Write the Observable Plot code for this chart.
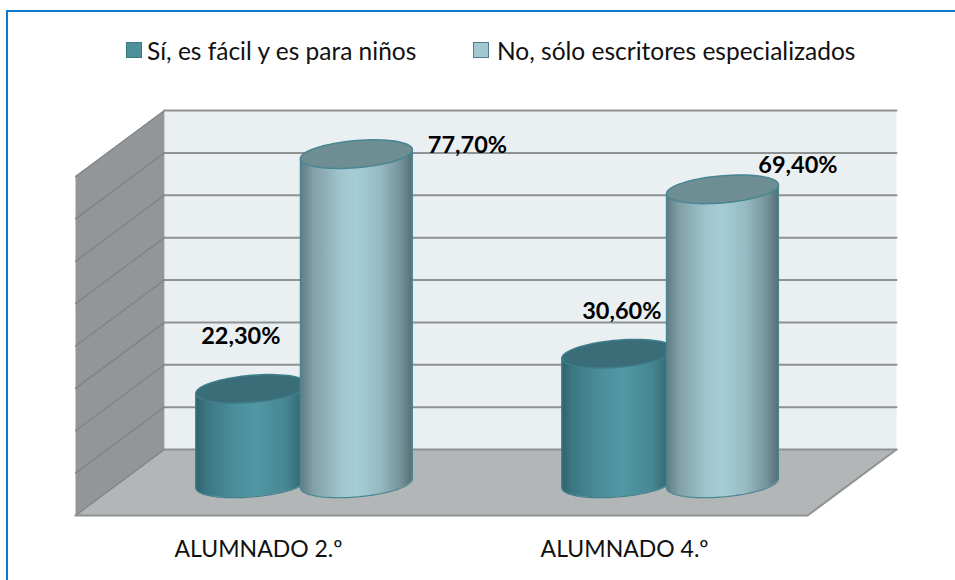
<!DOCTYPE html>
<html>
<head>
<meta charset="utf-8">
<script src="https://cdn.jsdelivr.net/npm/d3@7"></script>
<script src="https://cdn.jsdelivr.net/npm/@observablehq/plot@0.6"></script>
<style>
  html, body { margin: 0; padding: 0; background: #fff; overflow: hidden; }
  #page { position: absolute; left: 6px; top: 10px; right: 0; bottom: 0; border-left: 2px solid #0b78d0; border-top: 2px solid #0b78d0; box-sizing: border-box; }
  #legend { position: absolute; left: 0; top: 0; width: 955px; height: 70px; font-family: Lato, sans-serif; font-size: 24.5px; color: #111; }
  #legend .item { position: absolute; top: 42px; height: 16px; display: flex; align-items: center; white-space: nowrap; }
  #legend .sw { width: 14px; height: 14px; border: 1px solid; flex: none; }
  #chart { position: absolute; left: 0; top: 70px; }
  #chart svg { display: block; }
</style>
</head>
<body>
<div id="page"></div>
<div id="legend"></div>
<div id="chart"></div>
<script>
const categories = ["ALUMNADO 2.º", "ALUMNADO 4.º"];
const seriesNames = ["Sí, es fácil y es para niños", "No, sólo escritores especializados"];
const valuesYes = [22.3, 30.6];
const valuesNo = [77.7, 69.4];
const yTicks = [0, 10, 20, 30, 40, 50, 60, 70, 80];
const fmt = v => v.toFixed(2).replace(".", ",") + "%";

// Oblique-projection constants of the 3D frame
const W = 955, H = 510;
const xRange = [75, 896], yRange = [445, 40];
const depthX = 0.2428, depthY = 15.575;
const pxX = (xRange[1] - xRange[0]) / (2 + depthX);
const pxY = (yRange[0] - yRange[1]) / (80 + depthY);
const P = (x, v, d) => ({x: x + d * depthX, y: v - (1 - d) * depthY});

const wall = [P(0, 0, 1), P(2, 0, 1), P(2, 80, 1), P(0, 80, 1), P(0, 0, 1)];
const side = [P(0, 0, 0), P(0, 0, 1), P(0, 80, 1), P(0, 80, 0), P(0, 0, 0)];
const floor = [P(0, 0, 0), P(2, 0, 0), P(2, 0, 1), P(0, 0, 1), P(0, 0, 0)];
const backLines = yTicks.flatMap(v => [{...P(0, v, 1), v}, {...P(2, v, 1), v}]);
const sideLines = yTicks.map(v => [P(0, v, 0), P(0, v, 1)]);

// Cylinder geometry (pixel extents converted to scale units)
const hw = 56 / pxX, tilt = 4.5 / pxY, bulge = 13.6 / pxY;
const sep = 52.3 / pxX, cylX = 0.1245, cylY = 8.0;
const arcT = d3.range(0, 61).map(i => i / 60);
function lowerArc(cx, v) {
  return arcT.map(u => {
    const t = Math.PI * (1 - u);
    return {x: cx + hw * Math.cos(t), y: v - cylY + tilt * Math.cos(t) - bulge * Math.sin(t)};
  });
}
function body(cx, v) {
  return arcT.map(u => {
    const t = Math.PI * (1 - u), c = Math.cos(t);
    return {
      x: cx + hw * c,
      y1: -cylY + tilt * c - bulge * Math.sin(t),
      y2: v - cylY + tilt * c
    };
  });
}
function edge(cx, v) {
  const a = lowerArc(cx, 0);
  return [{x: cx - hw, y: v - cylY - tilt}, ...a, {x: cx + hw, y: v - cylY + tilt}];
}
function topEllipse(cx, v) {
  return d3.range(0, 73).map(i => {
    const t = i / 72 * 2 * Math.PI;
    return {x: cx + hw * Math.cos(t), y: v - cylY + tilt * Math.cos(t) + bulge * Math.sin(t)};
  });
}

const styles = [
  {grad: "url(#gDark)", top: "#3b6d79", stroke: "#3f7f8b"},
  {grad: "url(#gLight)", top: "#6f8e93", stroke: "#478692"}
];
const cylMarks = [];
categories.forEach((c, i) => {
  [valuesYes[i], valuesNo[i]].forEach((v, s) => {
    const cx = i + 0.5 + cylX + (s === 0 ? -sep : sep);
    const st = styles[s];
    cylMarks.push(
      Plot.areaY(body(cx, v), {x: "x", y1: "y1", y2: "y2", fill: st.grad}),
      Plot.line(edge(cx, v), {x: "x", y: "y", stroke: st.stroke, strokeWidth: 1.2}),
      Plot.line(topEllipse(cx, v), {x: "x", y: "y", fill: st.top, stroke: st.stroke, strokeWidth: 1.5})
    );
  });
});

// Where each value label sits relative to its cylinder top
const labelOffsets = [[-11, -52.5], [4, -42.5], [111, -9], [75.5, -23.5]];
const labelRows = [
  ...valuesYes.map((v, i) => ({v, x: i + 0.5 + cylX - sep})),
  ...valuesNo.map((v, i) => ({v, x: i + 0.5 + cylX + sep}))
];
const labelMarks = labelRows.map((r, i) => Plot.text([r], {
  x: "x", y: d => d.v - cylY, text: d => fmt(d.v),
  dx: labelOffsets[i][0], dy: labelOffsets[i][1],
  fontSize: 23.5, fontWeight: 700, fontFamily: "Lato, sans-serif", fill: "#000"
}));

const gradients = () => {
  const defs = d3.create("svg:defs");
  const add = (id, stops) => {
    const g = defs.append("linearGradient").attr("id", id)
      .attr("x1", 0).attr("x2", 1).attr("y1", 0).attr("y2", 0);
    stops.forEach(([o, c]) => g.append("stop").attr("offset", o).attr("stop-color", c));
  };
  add("gDark", [[0, "#2f626d"], [0.1, "#3c7783"], [0.35, "#4b8f9b"], [0.55, "#5098a4"], [0.8, "#478793"], [1, "#2f5f6a"]]);
  add("gLight", [[0, "#5f7a80"], [0.12, "#82a0a8"], [0.35, "#9ec3cc"], [0.5, "#a6cdd5"], [0.72, "#96b9c2"], [0.9, "#75929a"], [1, "#566f75"]]);
  return defs.node();
};

const plot = Plot.plot({
  width: W, height: H,
  margin: 0,
  x: {domain: [0, 2 + depthX], range: xRange, axis: null},
  y: {domain: [-depthY, 80], range: yRange, axis: null},
  marks: [
    gradients,
    Plot.line(wall, {x: "x", y: "y", fill: "#eaeff2", stroke: "none"}),
    Plot.line(side, {x: "x", y: "y", fill: "#939698", stroke: "none"}),
    Plot.line(floor, {x: "x", y: "y", fill: "#b2b6b6", stroke: "none"}),
    Plot.line(backLines, {x: "x", y: "y", z: "v", stroke: "#8f9292", strokeWidth: 2}),
    ...sideLines.map(l => Plot.line(l, {x: "x", y: "y", stroke: "#808384", strokeWidth: 1.3})),
    Plot.line([P(2, 0, 1), P(2, 0, 0), P(0, 0, 0)], {x: "x", y: "y", stroke: "#8f9292", strokeWidth: 2}),
    ...cylMarks,
    ...labelMarks,
    Plot.text(categories, {
      x: (d, i) => i + 0.5, y: () => -depthY, text: d => d, dy: 34,
      fontSize: 23, fontFamily: "Lato, sans-serif", fill: "#111"
    })
  ]
});
document.getElementById("chart").append(plot);

const legend = document.getElementById("legend");
[{x: 126, gap: 5, bg: "#4e8f9c", bd: "#3b7682"}, {x: 473, gap: 8, bg: "#a3c8d0", bd: "#4f7f88"}].forEach((o, i) => {
  const item = document.createElement("div");
  item.className = "item";
  item.style.left = o.x + "px";
  const sw = document.createElement("span");
  sw.className = "sw";
  sw.style.background = o.bg;
  sw.style.borderColor = o.bd;
  sw.style.marginRight = o.gap + "px";
  const t = document.createElement("span");
  t.textContent = seriesNames[i];
  item.append(sw, t);
  legend.append(item);
});
</script>
</body>
</html>
